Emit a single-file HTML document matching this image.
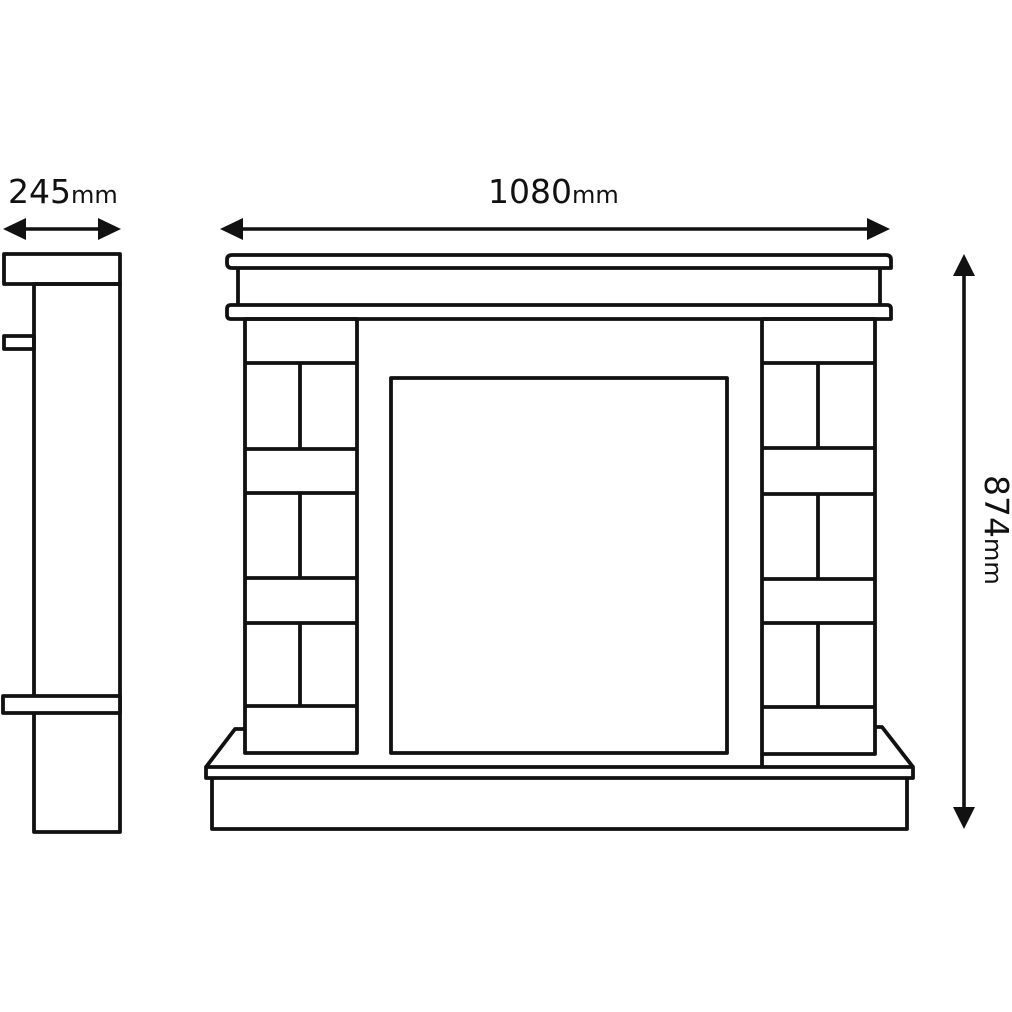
<!DOCTYPE html>
<html><head><meta charset="utf-8"><style>
html,body{margin:0;padding:0;background:#fff;}
svg{display:block}
text{font-family:"DejaVu Sans","Liberation Sans",sans-serif;fill:#111}
</style></head><body>
<svg width="1012" height="1012" viewBox="0 0 1012 1012" xmlns="http://www.w3.org/2000/svg">
<g fill="none" stroke="#111" stroke-width="3.8" stroke-linejoin="round">
<rect x="4" y="254" width="116" height="30"/>
<rect x="34" y="284" width="86" height="548"/>
<rect x="4" y="336" width="30" height="13"/>
<rect x="3" y="696" width="117" height="17" fill="#fff"/>
<path d="M232 255 H886 Q891 255 891 260 V268 H232 Q227 268 227 263 V260 Q227 255 232 255 Z"/>
<path d="M238 268 V305 M880 268 V305"/>
<path d="M231 305 H887 Q891 305 891 309 V319 H231 Q227 319 227 315 V309 Q227 305 231 305 Z"/>
<rect x="245" y="319" width="112" height="434"/>
<path d="M245 363 H357 M245 449 H357 M245 493 H357 M245 578 H357 M245 623 H357 M245 706 H357"/>
<path d="M300 363 V449 M300 493 V578 M300 623 V706"/>
<rect x="762" y="319" width="113" height="435"/>
<path d="M762 363 H875 M762 448 H875 M762 494 H875 M762 579 H875 M762 623 H875 M762 707 H875"/>
<path d="M818 363 V448 M818 494 V579 M818 623 V707"/>
<path d="M762 754 V767"/>
<rect x="391" y="378" width="336" height="375"/>
<path d="M245 729 H235 L206 767 M875 727 H882 L913 767"/>
<path d="M206 767 H913 V778 H206 Z"/>
<path d="M212 778 V829 H907 V778"/>
</g>
<g stroke="#111" stroke-width="3.6">
<line x1="20" y1="229" x2="104" y2="229"/>
<line x1="238" y1="229" x2="872" y2="229"/>
<line x1="964" y1="272" x2="964" y2="810"/>
</g>
<g fill="#111">
<polygon points="3,229 26,218 26,240"/>
<polygon points="121,229 98,218 98,240"/>
<polygon points="220,229 243,218 243,240"/>
<polygon points="890,229 867,218 867,240"/>
<polygon points="964,254 953,276 975,276"/>
<polygon points="964,829 953,807 975,807"/>
</g>
<text x="8" y="203" font-size="33">245<tspan font-size="24">mm</tspan></text>
<text x="488" y="203" font-size="33">1080<tspan font-size="24">mm</tspan></text>
<text transform="translate(985,475) rotate(90)" font-size="33">874<tspan font-size="24">mm</tspan></text>
</svg>
</body></html>
